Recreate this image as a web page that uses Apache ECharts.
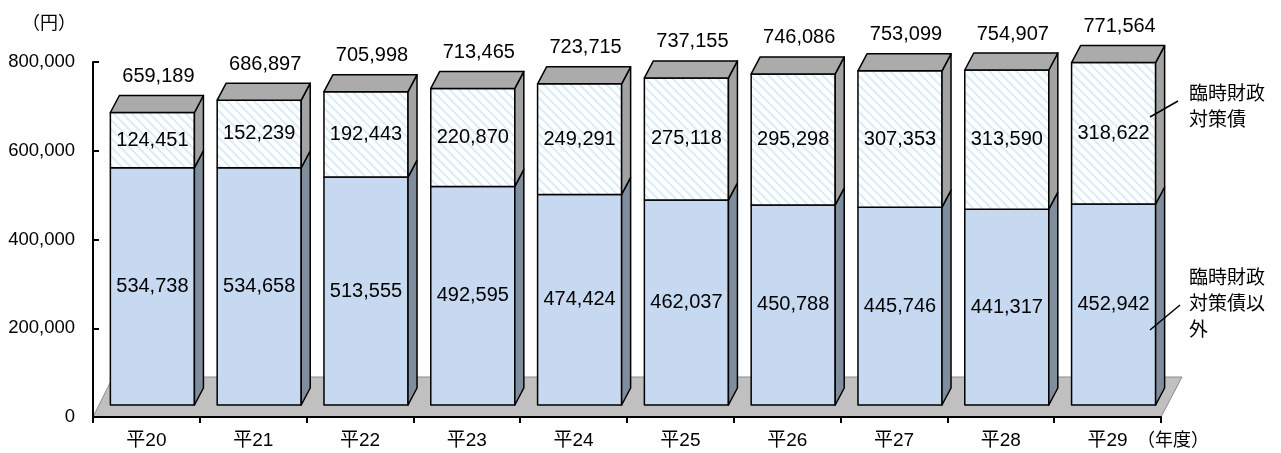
<!DOCTYPE html>
<html>
<head>
<meta charset="utf-8">
<script src="https://cdn.jsdelivr.net/npm/echarts@6/dist/echarts.min.js"></script>
<style>
  html, body { margin: 0; padding: 0; background: #fff; }
  #chart { width: 1281px; height: 453px; }
</style>
</head>
<body>
<div id="chart"></div>
<script>
// 年度
const years = ['平20', '平21', '平22', '平23', '平24', '平25', '平26', '平27', '平28', '平29']
// 臨時財政対策債以外
const otherDebt = [534738, 534658, 513555, 492595, 474424, 462037, 450788, 445746, 441317, 452942]
// 臨時財政対策債
const tempDebt = [124451, 152239, 192443, 220870, 249291, 275118, 295298, 307353, 313590, 318622]
// 合計
const totals = [659189, 686897, 705998, 713465, 723715, 737155, 746086, 753099, 754907, 771564]
const yTicks = [0, 200000, 400000, 600000, 800000]

const FONT = '"Liberation Sans", "Noto Sans CJK JP", sans-serif'
const JP_FONT = '"Noto Sans CJK JP", sans-serif'
const numFmt = (v) => v.toLocaleString('en-US')

// 斜線パターン
function makeHatch() {
  const c = document.createElement('canvas')
  const s = 9
  c.width = s
  c.height = s
  const ctx = c.getContext('2d')
  ctx.fillStyle = '#ffffff'
  ctx.fillRect(0, 0, s, s)
  ctx.strokeStyle = '#dbedf6'
  ctx.lineWidth = 2
  ctx.beginPath()
  ctx.moveTo(-2, -2); ctx.lineTo(s + 2, s + 2)
  ctx.moveTo(-2, s - 2); ctx.lineTo(2, s + 2)
  ctx.moveTo(s - 2, -2); ctx.lineTo(s + 2, 2)
  ctx.stroke()
  return c
}
const hatch = { image: makeHatch(), repeat: 'repeat' }

// 奥行き
const FRONT_DX = 6, FRONT_DY = -12
const DEPTH_DX = 9, DEPTH_DY = -17

const chart = echarts.init(document.getElementById('chart'))

function poly(points, fill) {
  return {
    type: 'polygon',
    shape: { points },
    style: { fill, stroke: '#000', lineWidth: 1.5, lineJoin: 'round' },
  }
}

function renderBar(params, api) {
  const i = api.value(0)
  const low = api.value(1)
  const up = api.value(2)
  const total = api.value(3)
  const base = api.coord([i, 0])
  const midPt = api.coord([i, low])
  const topPt = api.coord([i, low + up])
  const w = api.size([1, 0])[0] * 0.787
  const cx = base[0] + FRONT_DX
  const xl = cx - w / 2, xr = cx + w / 2
  const yb = base[1] + FRONT_DY
  const ym = midPt[1] + FRONT_DY
  const yt = topPt[1] + FRONT_DY
  const dx = DEPTH_DX, dy = DEPTH_DY
  const label = (text, x, y) => ({
    type: 'text',
    style: { text, x, y, align: 'center', verticalAlign: 'middle', font: '20px ' + FONT, fill: '#000' },
    z2: 10,
  })
  return {
    type: 'group',
    children: [
      // 下段
      poly([[xl, ym], [xr, ym], [xr, yb], [xl, yb]], '#c6d9f1'),
      poly([[xr, ym], [xr + dx, ym + dy], [xr + dx, yb + dy], [xr, yb]], '#7f8d9c'),
      // 上段
      poly([[xl, yt], [xr, yt], [xr, ym], [xl, ym]], hatch),
      poly([[xr, yt], [xr + dx, yt + dy], [xr + dx, ym + dy], [xr, ym]], '#a3a3a3'),
      // 上面
      poly([[xl, yt], [xl + dx, yt + dy], [xr + dx, yt + dy], [xr, yt]], '#ababab'),
      label(numFmt(low), cx, (ym + yb) / 2),
      label(numFmt(up), cx, (yt + ym) / 2),
      label(numFmt(total), cx + 6, yt - 36),
    ],
  }
}

function renderFloor(params, api) {
  const l = api.coord([0, 0])
  const r = api.coord([years.length - 1, 0])
  const half = api.size([1, 0])[0] / 2
  const x0 = l[0] - half, x1 = r[0] + half, y = l[1]
  return {
    type: 'polygon',
    shape: { points: [[x0, y], [x0 + 20, y - 40], [x1 + 21, y - 40], [x1, y]] },
    style: { fill: '#c0c0c0', stroke: '#8c8c8c', lineWidth: 1 },
  }
}

const option = {
  animation: false,
  grid: { left: 93, right: 120, top: 62, bottom: 36 },
  xAxis: {
    type: 'category',
    data: years,
    axisLine: { lineStyle: { color: '#000', width: 2 } },
    axisTick: { show: true, length: 6, lineStyle: { color: '#000', width: 2 } },
    axisLabel: { color: '#000', fontSize: 19, fontFamily: FONT, margin: 14 },
    z: 5,
  },
  yAxis: {
    type: 'value',
    min: 0,
    max: yTicks[yTicks.length - 1],
    interval: yTicks[1] - yTicks[0],
    axisLine: { show: true, lineStyle: { color: '#000', width: 2 } },
    axisTick: { show: true, inside: true, length: 6, lineStyle: { color: '#000', width: 2 } },
    splitLine: { show: false },
    axisLabel: { color: '#000', fontSize: 18.5, fontFamily: FONT, margin: 18, formatter: (v) => numFmt(v) },
    z: 5,
  },
  series: [
    {
      type: 'custom',
      renderItem: renderFloor,
      data: [[0]],
      z: 1,
      silent: true,
    },
    {
      type: 'custom',
      renderItem: renderBar,
      encode: { x: 0, y: 3 },
      data: years.map((y, i) => [i, otherDebt[i], tempDebt[i], totals[i]]),
      z: 2,
    },
  ],
  graphic: [
    { type: 'text', left: 22, top: 13, style: { text: '（円）', font: '18px ' + JP_FONT, fill: '#000' } },
    { type: 'text', left: 1137, top: 430, style: { text: '（年度）', font: '18px ' + JP_FONT, fill: '#000' } },
    {
      type: 'text', left: 1189, top: 80,
      style: { text: '臨時財政\n対策債', font: '19px ' + JP_FONT, lineHeight: 26, fill: '#000' },
    },
    {
      type: 'text', left: 1189, top: 264,
      style: { text: '臨時財政\n対策債以\n外', font: '19px ' + JP_FONT, lineHeight: 26, fill: '#000' },
    },
    { type: 'line', shape: { x1: 1150, y1: 117, x2: 1178, y2: 101 }, style: { stroke: '#000', lineWidth: 1.5 }, z: 10 },
    { type: 'line', shape: { x1: 1150, y1: 330, x2: 1180, y2: 305 }, style: { stroke: '#000', lineWidth: 1.5 }, z: 10 },
  ],
}

chart.setOption(option)
</script>
</body>
</html>
